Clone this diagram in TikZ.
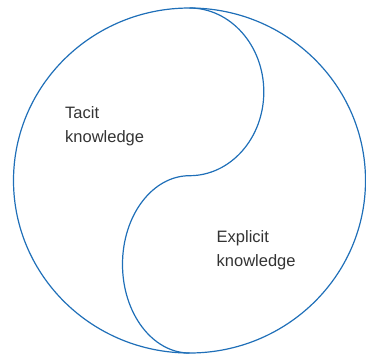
\documentclass[tikz,border=0pt]{standalone}
\usepackage{fontspec}
\setmainfont{Liberation Sans}
\usetikzlibrary{positioning}
\definecolor{yyblue}{HTML}{1F6FB8}
\definecolor{labelgray}{HTML}{333333}

\begin{document}
\begin{tikzpicture}[x=1pt,y=-1pt,
  outline/.style={draw=yyblue,line width=1.2pt},
  kname/.style={inner sep=0pt,align=left,text=labelgray,font=\fontsize{16.5}{24}\selectfont}]
\useasboundingbox (0,0) rectangle (366,354);
\coordinate (o) at (189.5,180.5);
\coordinate (top) at (189.5,8);

\draw [outline] (o) ellipse [x radius=176, y radius=172.5];
% the s-shaped divider, two half ellipses
\draw [outline] (top)
  arc [start angle=-90, end angle=90, x radius=74.3, y radius=83.85] coordinate (mid)
  arc [start angle=-90, end angle=-270, x radius=67, y radius=88.65] coordinate (bot);

\node [kname, anchor=north west] (tacit) at (65,106) {Tacit\\knowledge};
\node [kname, anchor=north west] (explicit) at (216.5,230.5) {Explicit\\knowledge};
\end{tikzpicture}
\end{document}
